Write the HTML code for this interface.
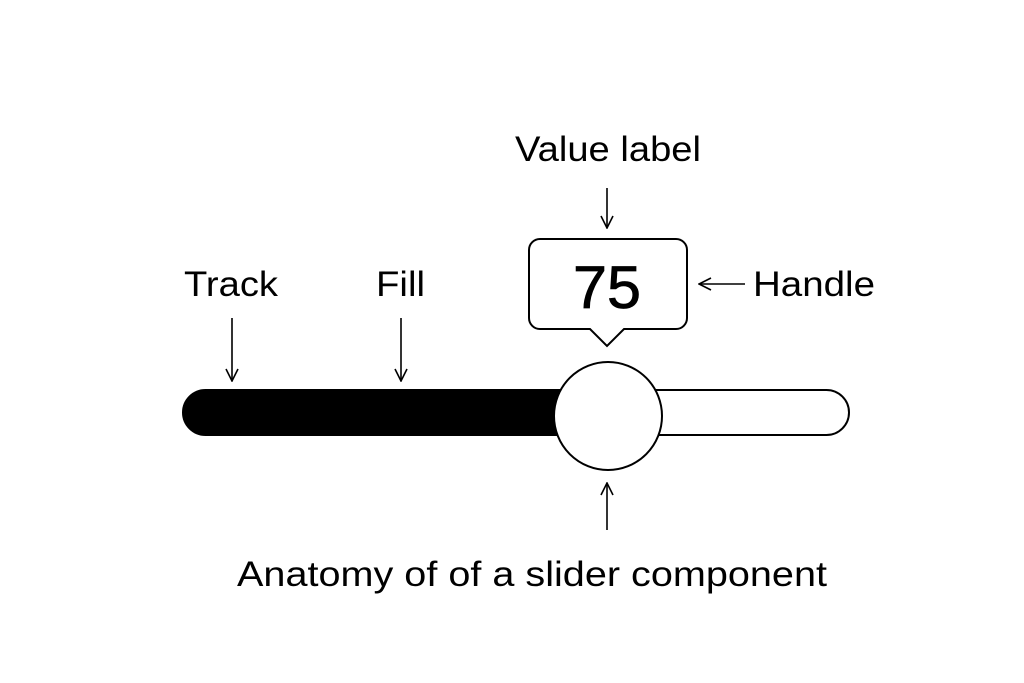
<!DOCTYPE html>
<html><head><meta charset="utf-8"><style>
html,body{margin:0;padding:0;background:#fff;}
svg{display:block;}
text{font-family:"Liberation Sans",sans-serif;fill:#000;}
</style></head><body>
<svg width="1024" height="683" viewBox="0 0 1024 683" xmlns="http://www.w3.org/2000/svg">
<rect width="1024" height="683" fill="#fff"/>
<defs>
<marker id="ah" viewBox="0 0 14 14" refX="13" refY="7" markerWidth="14" markerHeight="14" markerUnits="userSpaceOnUse" orient="auto">
<path d="M1,1 L13,7 L1,13" fill="none" stroke="#000" stroke-width="1.6"/>
</marker>
</defs>
<rect x="183" y="390" width="666" height="45" rx="22.5" fill="#fff" stroke="#000" stroke-width="2"/>
<path d="M205.5,390 H600 V435 H205.5 A22.5,22.5 0 0 1 205.5,390 Z" fill="#000"/>
<circle cx="608" cy="416" r="54" fill="#fff" stroke="#000" stroke-width="2"/>
<path d="M540,239 H676 A11,11 0 0 1 687,250 V318 A11,11 0 0 1 676,329 H624 L607,346 L590,329 H540 A11,11 0 0 1 529,318 V250 A11,11 0 0 1 540,239 Z" fill="#fff" stroke="#000" stroke-width="2"/>
<text x="607" y="308" font-size="60" text-anchor="middle" textLength="68" lengthAdjust="spacingAndGlyphs" stroke="#000" stroke-width="0.8">75</text>
<line x1="607" y1="188" x2="607" y2="228" stroke="#000" stroke-width="1.6" marker-end="url(#ah)"/>
<line x1="745" y1="284" x2="699" y2="284" stroke="#000" stroke-width="1.6" marker-end="url(#ah)"/>
<line x1="232" y1="318" x2="232" y2="381" stroke="#000" stroke-width="1.6" marker-end="url(#ah)"/>
<line x1="401" y1="318" x2="401" y2="381" stroke="#000" stroke-width="1.6" marker-end="url(#ah)"/>
<line x1="607" y1="530" x2="607" y2="483" stroke="#000" stroke-width="1.6" marker-end="url(#ah)"/>
<text x="515" y="161" font-size="35" textLength="186" lengthAdjust="spacingAndGlyphs">Value label</text>
<text x="184" y="296" font-size="35" textLength="94" lengthAdjust="spacingAndGlyphs">Track</text>
<text x="376" y="296" font-size="35" textLength="49" lengthAdjust="spacingAndGlyphs">Fill</text>
<text x="753" y="296" font-size="35" textLength="122" lengthAdjust="spacingAndGlyphs">Handle</text>
<text x="237" y="586" font-size="35" textLength="590" lengthAdjust="spacingAndGlyphs">Anatomy of of a slider component</text>
</svg>
</body></html>
